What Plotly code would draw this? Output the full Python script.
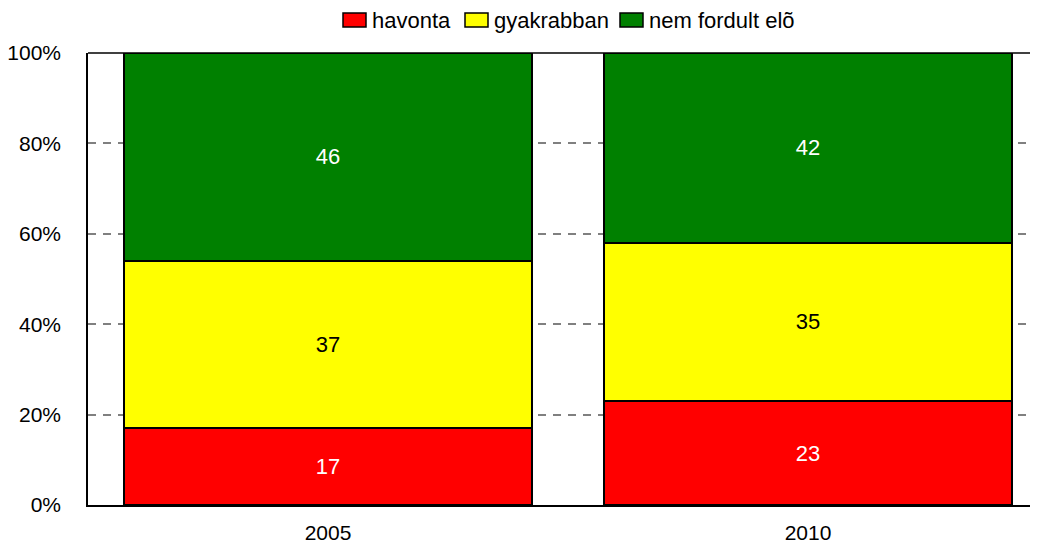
import plotly.graph_objects as go

YEARS = ["2005", "2010"]
HAVONTA = [17, 23]
GYAKRABBAN = [37, 35]
NEM_FORDULT_ELO = [46, 42]

SERIES_NAMES = ["havonta", "gyakrabban", "nem fordult elõ"]
SERIES_COLORS = ["#ff0000", "#ffff00", "#008000"]
TEXT_COLORS = ["white", "black", "white"]

FONT = "Liberation Sans, Arial, sans-serif"

# the page body has an 8px margin, so the figure is shifted by that much
PAGE_OFFSET = 8
PLOT_LEFT, PLOT_TOP, PLOT_BOTTOM, PLOT_RIGHT = 88, 53, 505, 1038


def px_to_paper(x, y):
    return (
        (x - PLOT_LEFT) / (PLOT_RIGHT - PLOT_LEFT),
        (PLOT_BOTTOM - y) / (PLOT_BOTTOM - PLOT_TOP),
    )


def make_bar(name, values, color, text_color):
    return go.Bar(
        name=name,
        x=YEARS,
        y=values,
        width=0.85,
        marker=dict(color=color, line=dict(color="black", width=1.5)),
        text=values,
        textposition="inside",
        insidetextanchor="middle",
        textfont=dict(family=FONT, size=22, color=text_color),
        hoverinfo="skip",
        showlegend=False,
    )


fig = go.Figure(
    data=[
        make_bar(SERIES_NAMES[0], HAVONTA, SERIES_COLORS[0], TEXT_COLORS[0]),
        make_bar(SERIES_NAMES[1], GYAKRABBAN, SERIES_COLORS[1], TEXT_COLORS[1]),
        make_bar(SERIES_NAMES[2], NEM_FORDULT_ELO, SERIES_COLORS[2], TEXT_COLORS[2]),
    ]
)

# hand-drawn legend across the top
shapes = [
    dict(
        type="line",
        xref="paper",
        yref="paper",
        x0=0,
        x1=1,
        y0=1,
        y1=1,
        line=dict(color="black", width=1.5),
        layer="above",
    )
]
annotations = []
legend_x = [343, 465, 620]
for name, color, x in zip(SERIES_NAMES, SERIES_COLORS, legend_x):
    x0, y0 = px_to_paper(x, 27)
    x1, y1 = px_to_paper(x + 23, 13)
    shapes.append(
        dict(
            type="rect",
            xref="paper",
            yref="paper",
            x0=x0,
            x1=x1,
            y0=y0,
            y1=y1,
            fillcolor=color,
            line=dict(color="black", width=1.5),
        )
    )
    tx, ty = px_to_paper(x + 27, 20)
    annotations.append(
        dict(
            text=name,
            xref="paper",
            yref="paper",
            x=tx,
            y=ty,
            xanchor="left",
            yanchor="middle",
            showarrow=False,
            font=dict(family=FONT, size=22, color="black"),
        )
    )

fig.update_layout(
    width=1038 - PAGE_OFFSET,
    height=545 - PAGE_OFFSET,
    barmode="stack",
    margin=dict(
        l=PLOT_LEFT - PAGE_OFFSET,
        r=0,
        t=PLOT_TOP - PAGE_OFFSET,
        b=545 - PLOT_BOTTOM,
        autoexpand=False,
    ),
    paper_bgcolor="white",
    plot_bgcolor="white",
    font=dict(family=FONT, size=21, color="black"),
    uniformtext=dict(mode="show", minsize=22),
    showlegend=False,
    xaxis=dict(
        range=[-0.5, -0.5 + (PLOT_RIGHT - PLOT_LEFT) / 480],
        showgrid=False,
        showline=True,
        linecolor="black",
        linewidth=1.5,
        tickfont=dict(size=21),
        ticks="",
        ticklabelstandoff=8,
        automargin=False,
    ),
    yaxis=dict(
        range=[0, 100],
        tickvals=[0, 20, 40, 60, 80, 100],
        ticktext=["0%", "20%", "40%", "60%", "80%", "100%"],
        showgrid=True,
        gridcolor="#808080",
        griddash="8px,7px",
        gridwidth=1.5,
        showline=True,
        linecolor="black",
        linewidth=1.5,
        ticks="",
        ticklabelstandoff=21,
        tickfont=dict(size=21),
        zeroline=False,
        automargin=False,
    ),
    shapes=shapes,
    annotations=annotations,
)

fig.write_html("out.html")
